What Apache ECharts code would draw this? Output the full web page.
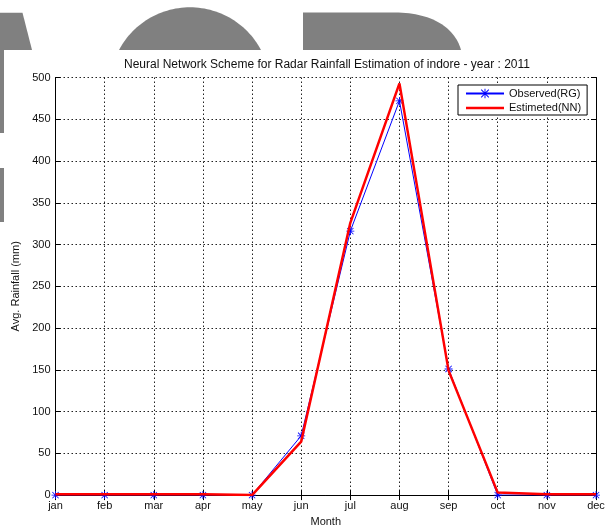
<!DOCTYPE html>
<html>
<head>
<meta charset="utf-8">
<script src="https://cdn.jsdelivr.net/npm/echarts@6/dist/echarts.min.js"></script>
<style>
html,body{margin:0;padding:0;background:#fff;}
#chart{width:610px;height:532px;}
</style>
</head>
<body>
<div id="chart"></div>
<script>
var months = ['jan','feb','mar','apr','may','jun','jul','aug','sep','oct','nov','dec'];
var observedRG = [0, 0, 0, 0, 0, 71, 316, 472, 151, 0, 0, 0];
var estimatedNN = [1, 1, 1, 1, 0, 64, 326, 493, 149, 3, 1, 1];
var yTicks = {min: 0, max: 500, interval: 50};

var FONT = 'Liberation Sans, Arial, Helvetica, sans-serif';
var STAR = 'path://M9,0 L11,0 L11,20 L9,20 Z M0,9 L20,9 L20,11 L0,11 Z M1.4,2.8 L2.8,1.4 L18.6,17.2 L17.2,18.6 Z M17.2,1.4 L18.6,2.8 L2.8,18.6 L1.4,17.2 Z';
var RED_LINE_ICON = 'path://M0,0 L0.01,0 L0,0.01 Z M0,4.75 L38,4.75 L38,7.25 L0,7.25 Z M37.99,12 L38,12 L38,11.99 Z';
var gridLine = {show: true, lineStyle: {color: '#222', width: 1, type: [1.5, 2.5]}};
var axLine = {show: true, lineStyle: {color: '#000', width: 1}};

// background watermark shapes (decoration, clipped at y = 50)
function domePoints() {
  var cx = 190, cy = 87.7, r = 80.4, pts = [];
  var a0 = Math.asin((cy - 50) / r);
  for (var i = 0; i <= 60; i++) {
    var a = a0 + (Math.PI - 2 * a0) * i / 60;
    pts.push([cx + r * Math.cos(Math.PI - a), cy - r * Math.sin(a)]);
  }
  return pts;
}
function dPoints() {
  var pts = [[303, 50], [303, 12.5], [395, 12.5]];
  var p0 = [395, 12.5], p1 = [432, 12.5], p2 = [455, 28], p3 = [461, 50];
  for (var i = 1; i <= 30; i++) {
    var t = i / 30, u = 1 - t;
    pts.push([
      u*u*u*p0[0] + 3*u*u*t*p1[0] + 3*u*t*t*p2[0] + t*t*t*p3[0],
      u*u*u*p0[1] + 3*u*u*t*p1[1] + 3*u*t*t*p2[1] + t*t*t*p3[1]
    ]);
  }
  return pts;
}

var chart = echarts.init(document.getElementById('chart'), null, {renderer: 'canvas'});
chart.setOption({
  backgroundColor: '#fff',
  animation: false,
  graphic: [
    {type: 'polygon', z: -1, shape: {points: [[0,12.7],[22.5,12.7],[32,50],[0,50]]}, style: {fill: '#808080'}},
    {type: 'polygon', z: -1, shape: {points: domePoints()}, style: {fill: '#808080'}},
    {type: 'polygon', z: -1, shape: {points: dPoints()}, style: {fill: '#808080'}},
    {type: 'rect', z: -1, shape: {x: 0, y: 50, width: 4, height: 83}, style: {fill: '#808080'}},
    {type: 'rect', z: -1, shape: {x: 0, y: 168, width: 4, height: 54}, style: {fill: '#808080'}}
  ],
  title: {
    text: 'Neural Network Scheme for Radar Rainfall Estimation of indore - year : 2011',
    left: 327, top: 59, textAlign: 'center', padding: 0,
    textStyle: {fontFamily: FONT, fontSize: 12, fontWeight: 'normal', color: '#111'}
  },
  legend: {
    orient: 'vertical', left: 458, top: 85,
    padding: [3, 6, 1, 7], itemGap: 3, itemWidth: 38, itemHeight: 12,
    backgroundColor: '#fff', borderColor: '#000', borderWidth: 1, borderRadius: 0,
    textStyle: {fontFamily: FONT, fontSize: 11, color: '#111'},
    data: [
      {name: 'Observed(RG)'},
      {name: 'Estimeted(NN)', icon: RED_LINE_ICON, itemStyle: {color: '#ff0000'}}
    ]
  },
  grid: {left: 55.5, right: 14, top: 77.5, bottom: 30.5, containLabel: false},
  xAxis: [
    {
      type: 'category', data: months, boundaryGap: false,
      name: 'Month', nameLocation: 'middle', nameGap: 20,
      nameTextStyle: {fontFamily: FONT, fontSize: 11, color: '#111'},
      axisLine: axLine,
      axisTick: {show: true, inside: true, length: 5, interval: 0, lineStyle: {color: '#000'}},
      axisLabel: {fontFamily: FONT, fontSize: 11, color: '#111', margin: 5, interval: 0},
      splitLine: Object.assign({interval: 0}, gridLine)
    },
    {
      type: 'category', data: months, boundaryGap: false, position: 'top',
      axisLine: axLine,
      axisTick: {show: true, inside: true, length: 5, interval: 0, lineStyle: {color: '#000'}},
      axisLabel: {show: false}, splitLine: {show: false}
    }
  ],
  yAxis: [
    {
      type: 'value', min: yTicks.min, max: yTicks.max, interval: yTicks.interval,
      name: 'Avg. Rainfall (mm)', nameLocation: 'middle', nameGap: 22,
      nameTextStyle: {fontFamily: FONT, fontSize: 11, color: '#111'},
      axisLine: axLine,
      axisTick: {show: true, inside: true, length: 5, lineStyle: {color: '#000'}},
      axisLabel: {fontFamily: FONT, fontSize: 11, color: '#111', margin: 5},
      splitLine: gridLine
    },
    {
      type: 'value', min: yTicks.min, max: yTicks.max, interval: yTicks.interval, position: 'right',
      axisLine: axLine,
      axisTick: {show: true, inside: true, length: 5, lineStyle: {color: '#000'}},
      axisLabel: {show: false}, splitLine: {show: false}
    }
  ],
  series: [
    {
      name: 'Observed(RG)', type: 'line', data: observedRG,
      xAxisIndex: 0, yAxisIndex: 0,
      symbol: STAR, symbolSize: 8, showSymbol: true,
      lineStyle: {color: '#0000ff', width: 1},
      itemStyle: {color: '#0000ff'},
      z: 2
    },
    {
      name: 'Estimeted(NN)', type: 'line', data: estimatedNN,
      xAxisIndex: 0, yAxisIndex: 0,
      symbol: 'none',
      lineStyle: {color: '#ff0000', width: 2.5},
      itemStyle: {color: '#ff0000'},
      z: 3
    }
  ]
});
</script>
</body>
</html>
